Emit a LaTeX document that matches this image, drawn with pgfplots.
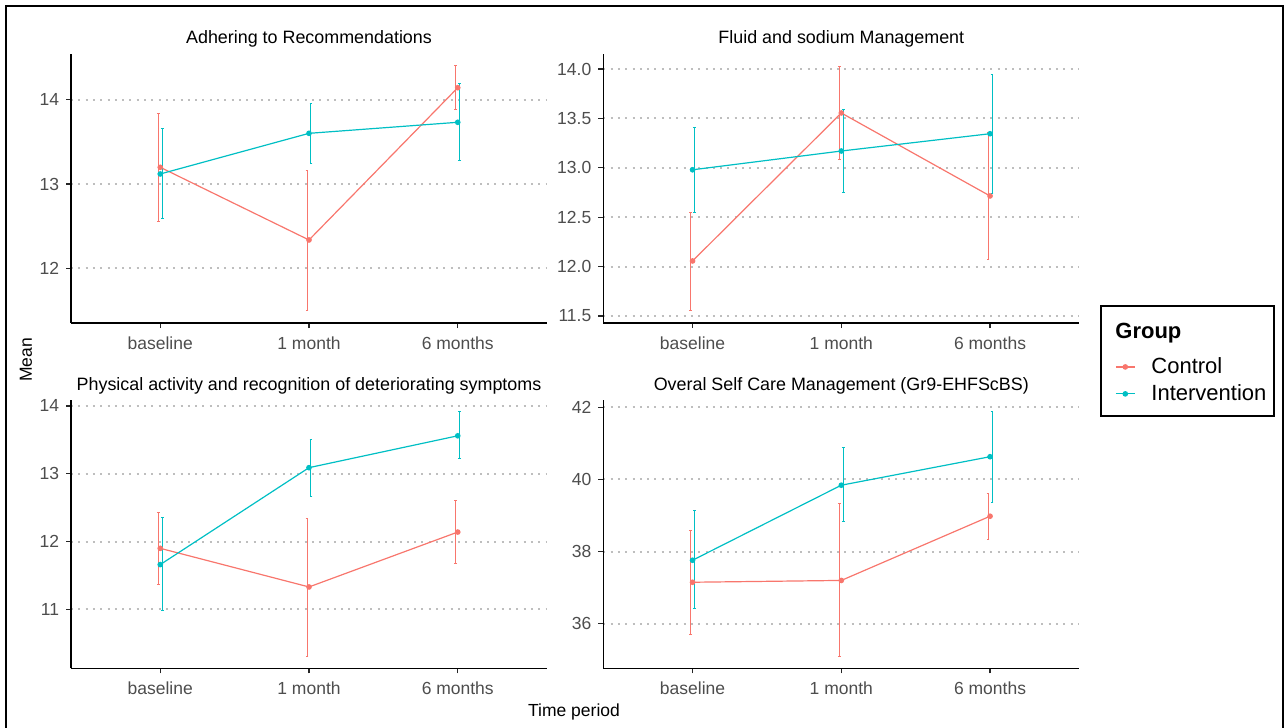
\documentclass[border=0pt]{standalone}
\usepackage{fontspec}
\setmainfont{Liberation Sans}
\usepackage{pgfplots}
\usepackage{pgfplotstable}
\pgfplotsset{compat=1.18}

\definecolor{ctrl}{HTML}{F8766D}
\definecolor{intv}{HTML}{00BFC4}
\definecolor{axtext}{HTML}{4D4D4D}
\definecolor{gridgray}{HTML}{BEBEBE}

% Mean scores with 95% interval (lo, hi) per time point
\pgfplotstableread{
x mean lo hi
1 13.198 12.553 13.839
2 12.336 11.497 13.158
3 14.142 13.878 14.403
}\adhCtrl
\pgfplotstableread{
x mean lo hi
1 13.119 12.593 13.656
2 13.601 13.249 13.957
3 13.732 13.276 14.195
}\adhIntv
\pgfplotstableread{
x mean lo hi
1 12.057 11.554 12.546
2 13.555 13.080 14.030
3 12.715 12.067 13.360
}\fluCtrl
\pgfplotstableread{
x mean lo hi
1 12.980 12.546 13.406
2 13.170 12.745 13.595
3 13.345 12.740 13.940
}\fluIntv
\pgfplotstableread{
x mean lo hi
1 11.90 11.37 12.43
2 11.33 10.31 12.34
3 12.14 11.68 12.60
}\phyCtrl
\pgfplotstableread{
x mean lo hi
1 11.66 10.98 12.36
2 13.09 12.67 13.51
3 13.56 13.22 13.92
}\phyIntv
\pgfplotstableread{
x mean lo hi
1 37.15 35.71 38.58
2 37.20 35.10 39.32
3 38.98 38.34 39.62
}\selfCtrl
\pgfplotstableread{
x mean lo hi
1 37.76 36.42 39.13
2 39.84 38.83 40.88
3 40.63 39.37 41.88
}\selfIntv

\pgfplotsset{
  panel/.style={
    scale only axis, width=238pt,
    xmin=0.4, xmax=3.6,
    xtick={1,2,3}, xticklabels={baseline,1 month,6 months},
    axis x line*=bottom, axis y line*=left,
    axis line style={-, black, line width=0.6pt},
    tick align=outside, major tick length=2.5pt,
    tick style={black!85, line width=0.6pt},
    ticklabel style={font=\fontsize{8.75}{10}\selectfont, text=axtext},
    /pgf/number format/assume math mode=true,
    xticklabel style={anchor=north, inner sep=0pt, yshift=-4pt},
    yticklabel style={anchor=east, inner sep=0pt, xshift=-3.3pt},
    ymajorgrids,
    major grid style={gridgray, line width=1pt, dash pattern=on 1pt off 2.65pt},
    title style={at={(0.5,1)}, anchor=base, yshift=-1pt,
      font=\fontsize{8.95}{10}\selectfont, text=black},
    clip=false,
  },
  bars/.style={draw=none, mark=none, forget plot,
    error bars/.cd, y dir=both, y explicit,
    error bar style={draw=#1, line width=0.5pt},
    error mark options={draw=#1, rotate=90, mark size=0.7pt, line width=0.5pt}},
  series/.style={#1, line width=0.6pt, mark=*, mark size=1.1pt,
    mark options={solid, fill=#1, draw=#1}},
}

% error bars are dodged slightly left (Control) and right (Intervention)
\newcommand{\group}[3]{%
  \addplot[bars=#2] table[x expr=\thisrow{x}+#3, y=mean,
    y error plus expr=\thisrow{hi}-\thisrow{mean},
    y error minus expr=\thisrow{mean}-\thisrow{lo}] {#1};
  \addplot[series=#2] table[x=x, y=mean] {#1};
}

\begin{document}
\begin{tikzpicture}
\useasboundingbox (0,0) rectangle (642.5pt,-364pt);
\draw[line width=1pt] (3pt,-364pt) -- (3pt,-3pt) -- (641.5pt,-3pt) -- (641.5pt,-364pt);

\begin{axis}[panel, at={(35.5pt,-26.75pt)}, anchor=north west, height=134.75pt,
  ymin=11.351, ymax=14.548, ytick={12,13,14},
  title={Adhering to Recommendations}]
  \group{\adhCtrl}{ctrl}{-0.0134}
  \group{\adhIntv}{intv}{0.0134}
\end{axis}

\begin{axis}[panel, at={(301.65pt,-26.75pt)}, anchor=north west, height=134.75pt,
  ymin=11.429, ymax=14.157, ytick={11.5,12,12.5,13,13.5,14},
  yticklabel style={/pgf/number format/fixed, /pgf/number format/precision=1,
    /pgf/number format/fixed zerofill},
  title={Fluid and sodium Management},
  legend cell align=left,
  legend image code/.code={%
    \draw[mark repeat=2, mark phase=2, #1] plot coordinates {(0pt,0pt) (4.75pt,0pt) (9.5pt,0pt)};},
  legend style={at={(axis description cs:1.0746,-0.1115)}, anchor=north west,
    draw=none, fill=none, inner sep=0pt,
    font=\fontsize{11}{13}\selectfont, row sep=0pt,
    /tikz/every odd column/.append style={column sep=6pt}},
  ]
  \group{\fluCtrl}{ctrl}{-0.0134}
  \addlegendentry{Control}
  \group{\fluIntv}{intv}{0.0134}
  \addlegendentry{Intervention}
\end{axis}

\begin{axis}[panel, at={(35.5pt,-200pt)}, anchor=north west, height=134.15pt,
  ymin=10.130, ymax=14.088, ytick={11,12,13,14},
  title={Physical activity and recognition of deteriorating symptoms}]
  \group{\phyCtrl}{ctrl}{-0.0134}
  \group{\phyIntv}{intv}{0.0134}
\end{axis}

\begin{axis}[panel, at={(301.65pt,-200pt)}, anchor=north west, height=134.15pt,
  ymin=34.764, ymax=42.202, ytick={36,38,40,42},
  title={Overal Self Care Management (Gr9-EHFScBS)}]
  \group{\selfCtrl}{ctrl}{-0.0134}
  \group{\selfIntv}{intv}{0.0134}
\end{axis}

% legend frame and title
\draw[line width=1pt] (550.5pt,-153pt) rectangle (637pt,-208pt);
\node[anchor=west, inner sep=0pt, font=\fontsize{11}{13}\selectfont\bfseries] at (557.5pt,-166.7pt) {Group};

\node[rotate=90, font=\fontsize{8.75}{10}\selectfont] at (13pt,-180pt) {Mean};
\node[font=\fontsize{8.75}{10}\selectfont] at (287pt,-356pt) {Time period};
\end{tikzpicture}
\end{document}
